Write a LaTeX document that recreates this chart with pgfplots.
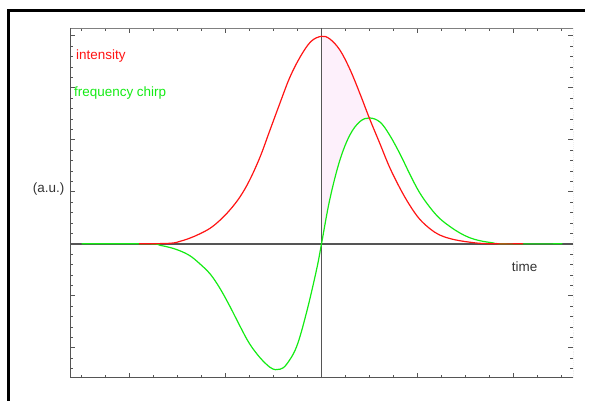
\documentclass[border=0pt]{standalone}
\usepackage{fontspec}
\setmainfont{Liberation Sans}
\usepackage{pgfplots}
\usepackage{pgfplotstable}
\pgfplotsset{compat=1.18}

\definecolor{chirpgreen}{RGB}{20,235,20}
\definecolor{pulsered}{RGB}{255,20,20}
\definecolor{shade}{RGB}{253,240,251}
\definecolor{axisgray}{RGB}{85,85,85}

% pulse intensity envelope (a.u.)
\pgfplotstableread{
t      I
-1.90  0.00
-1.58  0.01
-1.47  0.05
-1.37  0.11
-1.27  0.19
-1.16  0.30
-1.06  0.45
-0.955 0.65
-0.85  0.90
-0.75  1.22
-0.64  1.67
-0.54  2.17
-0.43  2.72
-0.33  3.20
-0.22  3.60
-0.11  3.89
 0.00  3.99
 0.086 3.94
 0.19  3.73
 0.295 3.36
 0.40  2.89
 0.50  2.41
 0.61  1.92
 0.71  1.47
 0.82  1.06
 0.92  0.74
 1.02  0.48
 1.13  0.29
 1.23  0.17
 1.34  0.10
 1.44  0.06
 1.55  0.03
 1.65  0.01
 1.80  0.00
 2.10  0.00
}\intensity

% instantaneous frequency chirp (a.u.)
\pgfplotstableread{
t      f
-2.50  0.00
-1.80  0.00
-1.68 -0.03
-1.58 -0.07
-1.48 -0.13
-1.37 -0.23
-1.27 -0.38
-1.16 -0.58
-1.06 -0.85
-0.955 -1.20
-0.85 -1.58
-0.75 -1.92
-0.64 -2.19
-0.54 -2.37
-0.48 -2.42
-0.43 -2.41
-0.365 -2.32
-0.26 -1.98
-0.156 -1.32
-0.052 -0.50
 0.00  0.00
 0.086 0.85
 0.19  1.60
 0.295 2.09
 0.40  2.35
 0.50  2.42
 0.61  2.34
 0.71  2.09
 0.82  1.72
 0.92  1.34
 1.02  0.99
 1.13  0.70
 1.23  0.49
 1.34  0.33
 1.44  0.21
 1.54  0.12
 1.65  0.06
 1.78  0.02
 1.90  0.00
 2.51  0.00
}\chirp

\begin{document}
\begin{tikzpicture}
\useasboundingbox (0bp,0bp) rectangle (595bp,401bp);
% window frame
\draw[black, line width=2.7bp] (8.7bp,0bp) -- (8.7bp,390.5bp) -- (585bp,390.5bp);

\begin{axis}[
  at={(70bp,23bp)}, anchor=south west,
  scale only axis, width=503bp, height=350bp,
  xmin=-2.62, xmax=2.62, ymin=-2.58, ymax=4.15,
  xtick distance=1, ytick distance=1,
  minor x tick num=3, minor y tick num=4,
  xticklabels={}, yticklabels={},
  tick align=inside,
  major tick length=5bp, minor tick length=3bp,
  every tick/.append style={axisgray, line width=0.9bp},
  axis line style={draw=none},
]
% shaded area between intensity and chirp for t in [0, 0.5]
\addplot[draw=none, fill=shade, smooth, tension=0.6] coordinates {
  (0,3.99) (0.086,3.94) (0.19,3.73) (0.295,3.36) (0.40,2.89) (0.50,2.41)
  (0.40,2.35) (0.295,2.09) (0.19,1.60) (0.086,0.85) (0,0)
} -- cycle;

% box and zero lines
\draw[axisgray!75, line width=0.9bp] (rel axis cs:0,1) -- (rel axis cs:1,1);
\draw[axisgray!75, line width=0.9bp, densely dotted] (rel axis cs:1,0) -- (rel axis cs:1,1);
\draw[axisgray, line width=1.8bp] (rel axis cs:0,1) -- (rel axis cs:0,0) -- (rel axis cs:1,0);
\draw[axisgray, line width=1.7bp] (axis cs:-2.62,0) -- (axis cs:2.62,0);
\draw[axisgray, line width=1.7bp] (axis cs:0,-2.58) -- (axis cs:0,4.15);

\addplot[chirpgreen, line width=1.2bp, smooth, tension=0.6] table[x=t, y=f] {\chirp};
\addplot[pulsered, line width=1.2bp, smooth, tension=0.6] table[x=t, y=I] {\intensity};
\end{axis}

\begin{scope}[every node/.style={inner sep=0pt, font=\fontsize{13.5}{16}\selectfont}]
\node[anchor=west, text=pulsered] at (76bp,344.5bp) {intensity};
\node[anchor=west, text=chirpgreen] at (74bp,308bp) {frequency chirp};
\node[anchor=west, text=black!80] at (32.7bp,212.3bp) {(a.u.)};
\node[anchor=west, text=black!80] at (511.7bp,134bp) {time};
\end{scope}
\end{tikzpicture}
\end{document}
